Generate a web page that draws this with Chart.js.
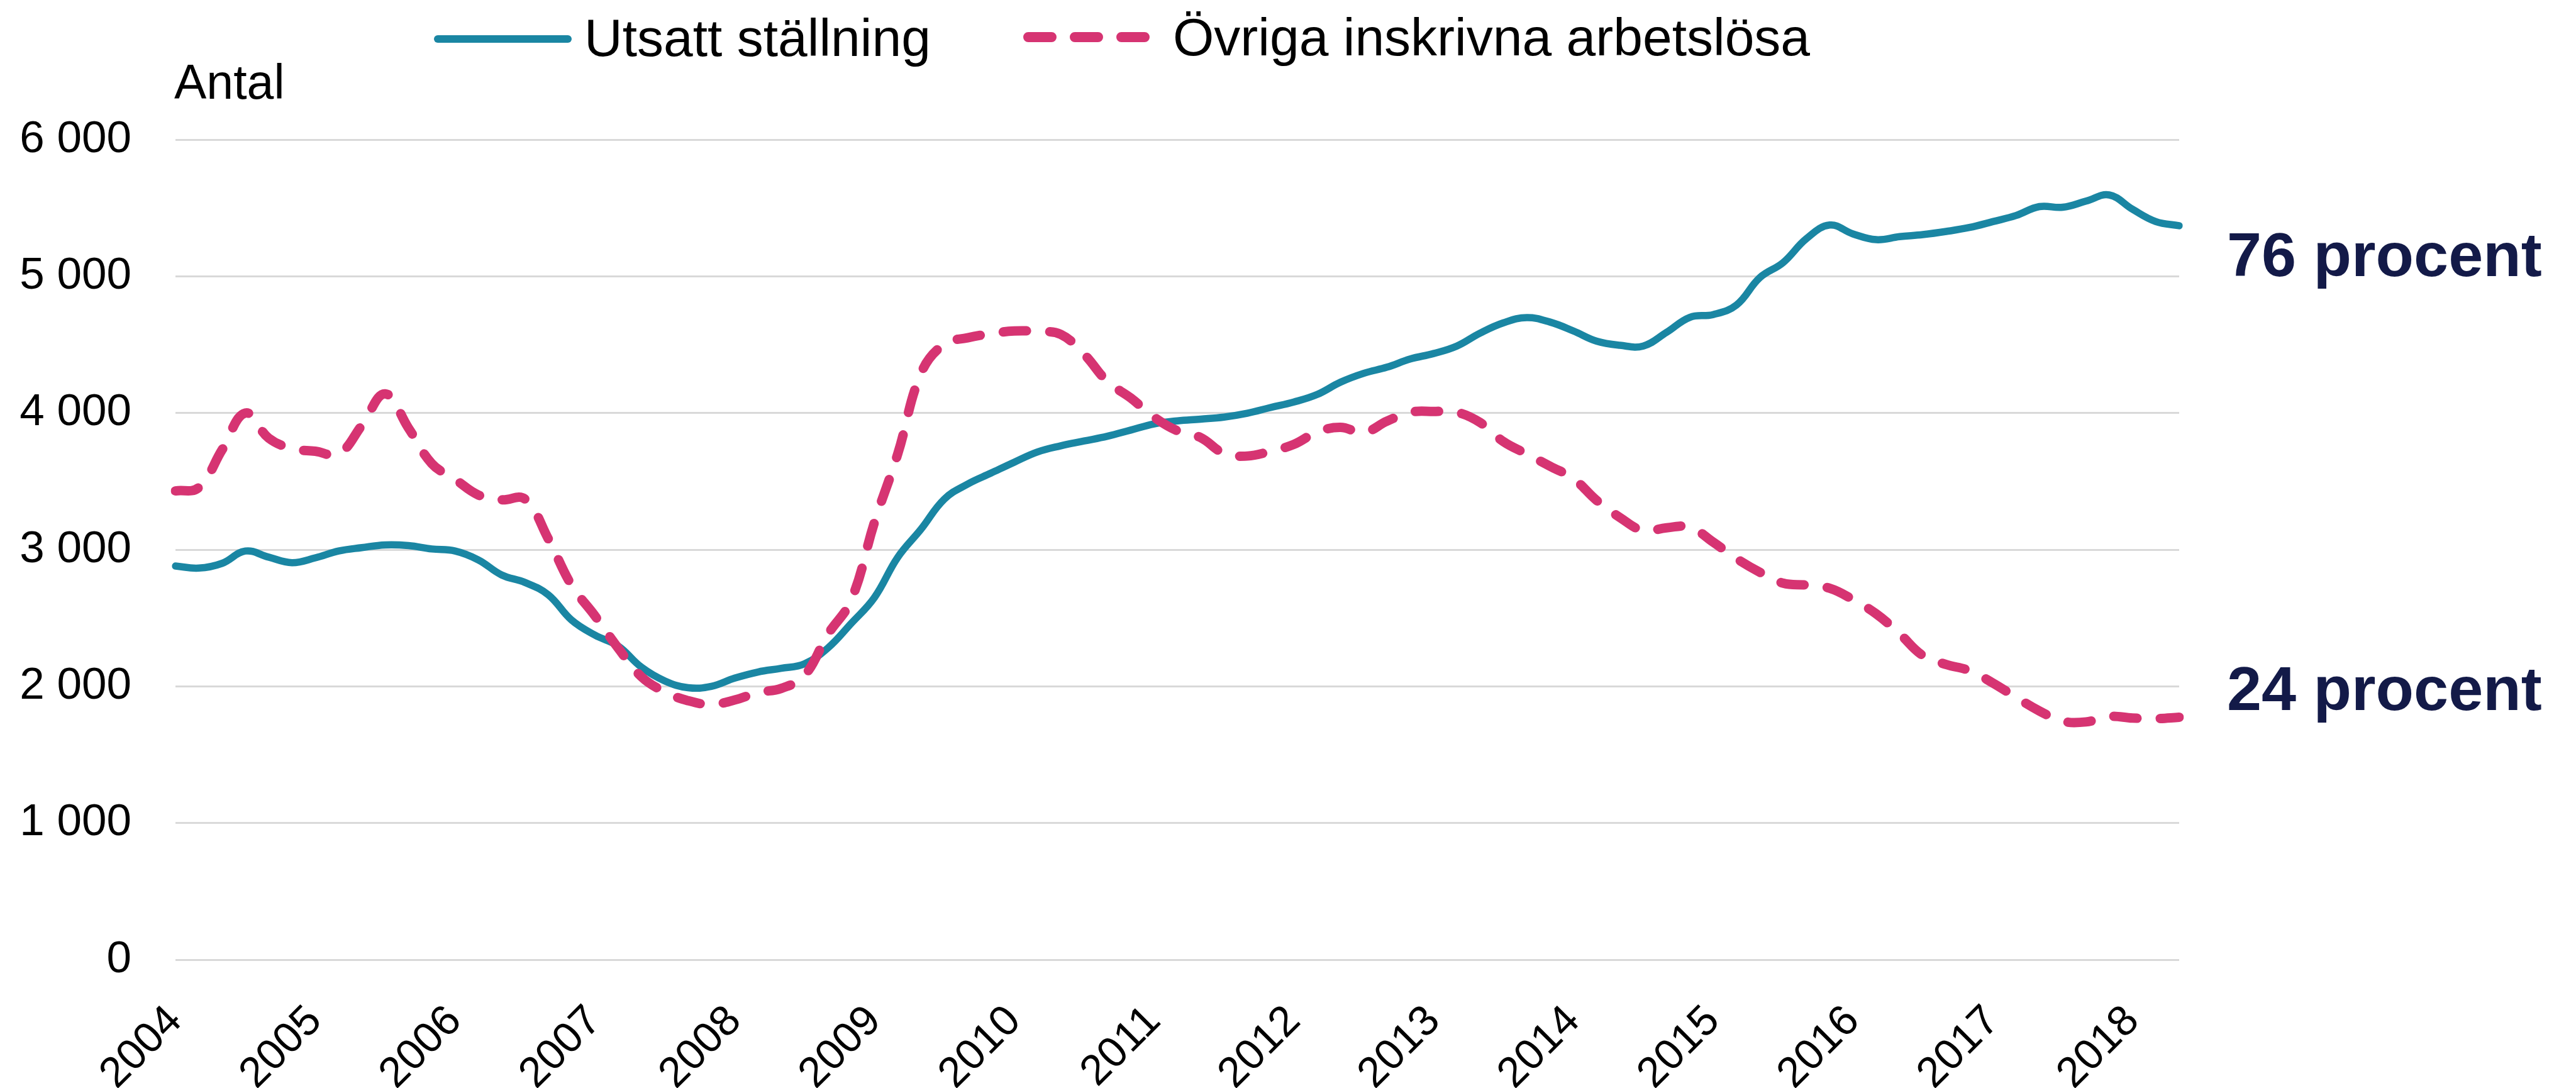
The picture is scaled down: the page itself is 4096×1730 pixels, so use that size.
<!DOCTYPE html>
<html lang="sv">
<head>
<meta charset="utf-8">
<title>Utsatt ställning</title>
<script src="https://cdn.jsdelivr.net/npm/chart.js@4.4.1/dist/chart.umd.min.js"></script>
<style>
  html, body { margin: 0; padding: 0; background: #fff; }
  canvas { display: block; }
</style>
</head>
<body>
<canvas id="chart" width="4096" height="1730"></canvas>
<script>
// one value every second month, Jan 2004 - May 2018
const startYear = 2004;
const monthStep = 2;

const utsatt = [
  2880, 2865, 2900, 2990, 2945, 2905,
  2940, 2990, 3015, 3035, 3030, 3005,
  2990, 2925, 2815, 2760, 2670, 2485,
  2375, 2295, 2140, 2040, 1990, 2000,
  2060, 2105, 2132, 2165, 2280, 2460,
  2650, 2944, 3150, 3370, 3480, 3560,
  3640, 3715, 3760, 3795, 3830, 3875,
  3920, 3942, 3955, 3970, 3998, 4040,
  4080, 4135, 4225, 4290, 4335, 4395,
  4435, 4490, 4585, 4660, 4698, 4665,
  4600, 4525, 4495, 4490, 4590, 4700,
  4720, 4790, 4990, 5100, 5275, 5375,
  5310, 5268, 5290, 5305, 5328, 5357,
  5400, 5445, 5510, 5505, 5550, 5595,
  5490, 5400, 5370
];

const ovriga = [
  3430, 3455, 3730, 4000, 3816, 3740,
  3720, 3700, 3910, 4140, 3890, 3630,
  3515, 3400, 3365, 3370, 3080, 2740,
  2517, 2280, 2070, 1960, 1895, 1868,
  1900, 1955, 1985, 2080, 2380, 2630,
  3200, 3700, 4290, 4505, 4550, 4580,
  4600, 4596, 4575, 4430, 4230, 4110,
  3970, 3870, 3820, 3705, 3685, 3720,
  3770, 3860, 3895, 3857, 3940, 4005,
  4011, 4005, 3930, 3790, 3700, 3610,
  3520, 3360, 3235, 3140, 3160, 3165,
  3055, 2935, 2835, 2755, 2741, 2718,
  2635, 2530, 2385, 2225, 2160, 2115,
  2025, 1920, 1820, 1745, 1740, 1780,
  1768, 1764, 1774
];

const seriesNames = ['Utsatt ställning', 'Övriga inskrivna arbetslösa'];
const shares = ['76 procent', '24 procent'];
const yMax = 6000;
const yStep = 1000;

const blue = '#1a86a3';
const pink = '#d63472';
const navy = '#131a48';
const font = '"Liberation Sans", Arial, sans-serif';

// year label on every January, blank otherwise
const labels = utsatt.map((_, i) => {
  const m = i * monthStep;
  return m % 12 === 0 ? String(startYear + m / 12) : '';
});

const fmt = v => String(v).replace(/\B(?=(\d{3})+(?!\d))/g, ' ');

const overlay = {
  id: 'overlay',
  afterDraw(chart) {
    const ctx = chart.ctx;
    ctx.save();
    // legend
    ctx.lineCap = 'round';
    ctx.strokeStyle = blue;
    ctx.lineWidth = 12;
    ctx.beginPath();
    ctx.moveTo(696, 62);
    ctx.lineTo(903, 62);
    ctx.stroke();
    ctx.strokeStyle = pink;
    ctx.lineWidth = 16;
    ctx.setLineDash([37, 37]);
    ctx.beginPath();
    ctx.moveTo(1635, 59);
    ctx.lineTo(1835, 59);
    ctx.stroke();
    ctx.setLineDash([]);

    ctx.fillStyle = '#000';
    ctx.textBaseline = 'alphabetic';
    ctx.textAlign = 'left';
    ctx.font = '84px ' + font;
    ctx.fillText(seriesNames[0], 929, 89);
    ctx.fillText(seriesNames[1], 1865, 88);

    ctx.font = '77px ' + font;
    ctx.fillText('Antal', 277, 157);

    ctx.fillStyle = navy;
    ctx.font = 'bold 99px ' + font;
    ctx.fillText(shares[0], 3541, 439);
    ctx.fillText(shares[1], 3541, 1129);
    ctx.restore();
  }
};

new Chart(document.getElementById('chart'), {
  type: 'line',
  data: {
    labels: labels,
    datasets: [
      {
        label: seriesNames[0],
        data: utsatt,
        borderColor: blue,
        backgroundColor: blue,
        borderWidth: 11.5,
        borderCapStyle: 'round',
        borderJoinStyle: 'round',
        pointRadius: 0,
        tension: 0.4,
        order: 1
      },
      {
        label: seriesNames[1],
        data: ovriga,
        borderColor: pink,
        backgroundColor: pink,
        borderWidth: 15,
        borderDash: [37, 37],
        borderCapStyle: 'round',
        borderJoinStyle: 'round',
        pointRadius: 0,
        tension: 0.4,
        order: 0
      }
    ]
  },
  options: {
    responsive: false,
    devicePixelRatio: 1,
    animation: false,
    layout: { padding: { top: 222, right: 631, left: 0, bottom: 0 } },
    plugins: {
      legend: { display: false },
      tooltip: { enabled: false }
    },
    scales: {
      x: {
        grid: { display: false },
        border: { display: false },
        ticks: {
          autoSkip: false,
          minRotation: 45,
          maxRotation: 45,
          padding: 50,
          color: '#000',
          font: { family: font, size: 68 }
        },
        afterFit: s => { s.height = 204; }
      },
      y: {
        min: 0,
        max: yMax,
        grid: { color: '#d9d9d9', lineWidth: 3, drawTicks: false },
        border: { display: false },
        ticks: {
          stepSize: yStep,
          padding: 70,
          color: '#000',
          font: { family: font, size: 71 },
          callback: v => fmt(v)
        },
        afterFit: s => { s.width = 279; }
      }
    }
  },
  plugins: [overlay]
});
</script>
</body>
</html>
